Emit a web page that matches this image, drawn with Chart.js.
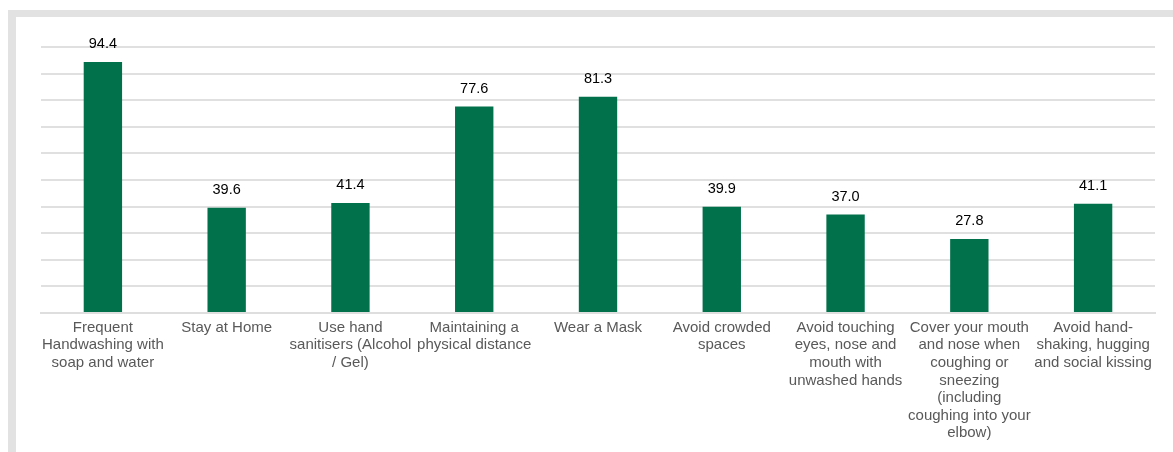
<!DOCTYPE html>
<html>
<head>
<meta charset="utf-8">
<script src="https://cdn.jsdelivr.net/npm/chart.js@4.4.1/dist/chart.umd.min.js"></script>
<style>
  html, body { margin: 0; padding: 0; background: #fff; }
  #frame {
    position: absolute; left: 8px; top: 10px; width: 1165px; height: 442px;
    border-top: 7px solid #e2e2e2; border-left: 8px solid #e2e2e2; box-sizing: border-box;
  }
  #wrap { position: absolute; left: 0; top: 0; width: 1173px; height: 452px; }
</style>
</head>
<body>
<div id="frame"></div>
<div id="wrap"><canvas id="chart"></canvas></div>
<script>
// preventive behaviours, % of respondents
const categories = [
  ['Frequent', 'Handwashing with', 'soap and water'],
  'Stay at Home',
  ['Use hand', 'sanitisers (Alcohol', '/ Gel)'],
  ['Maintaining a', 'physical distance'],
  'Wear a Mask',
  ['Avoid crowded', 'spaces'],
  ['Avoid touching', 'eyes, nose and', 'mouth with', 'unwashed hands'],
  ['Cover your mouth', 'and nose when', 'coughing or', 'sneezing', '(including', 'coughing into your', 'elbow)'],
  ['Avoid hand-', 'shaking, hugging', 'and social kissing']
];
const values = [94.4, 39.6, 41.4, 77.6, 81.3, 39.9, 37.0, 27.8, 41.1];

const FONT = "'Liberation Sans', Arial, sans-serif";

// value labels above each bar
const valueLabels = {
  id: 'valueLabels',
  afterDatasetsDraw(chart) {
    const ctx = chart.ctx;
    const meta = chart.getDatasetMeta(0);
    ctx.save();
    ctx.font = '14.5px ' + FONT;
    ctx.fillStyle = '#000';
    ctx.textAlign = 'center';
    ctx.textBaseline = 'middle';
    meta.data.forEach((bar, i) => {
      ctx.fillText(values[i].toFixed(1), bar.x, bar.y - 18);
    });
    ctx.restore();
  }
};

new Chart(document.getElementById('chart').getContext('2d'), {
  type: 'bar',
  data: {
    labels: categories,
    datasets: [{
      data: values,
      backgroundColor: '#00714A',
      barPercentage: 0.31,
      categoryPercentage: 1.0
    }]
  },
  options: {
    responsive: true,
    maintainAspectRatio: false,
    animation: false,
    layout: { padding: { left: 0, right: 18, top: 47, bottom: 0 } },
    plugins: {
      legend: { display: false },
      tooltip: { enabled: false }
    },
    scales: {
      x: {
        grid: { display: false },
        border: { color: '#dedede', width: 2 },
        ticks: {
          color: '#595959',
          font: { family: FONT, size: 15, lineHeight: 1.17 },
          maxRotation: 0,
          autoSkip: false,
          padding: -2
        },
        afterFit(scale) { scale.height = 139; }
      },
      y: {
        min: 0,
        max: 100,
        ticks: { display: false, stepSize: 10 },
        grid: { color: '#e0e0e0', lineWidth: 2, drawTicks: false },
        border: { display: false },
        afterFit(scale) { scale.width = 41; }
      }
    }
  },
  plugins: [valueLabels]
});
</script>
</body>
</html>
